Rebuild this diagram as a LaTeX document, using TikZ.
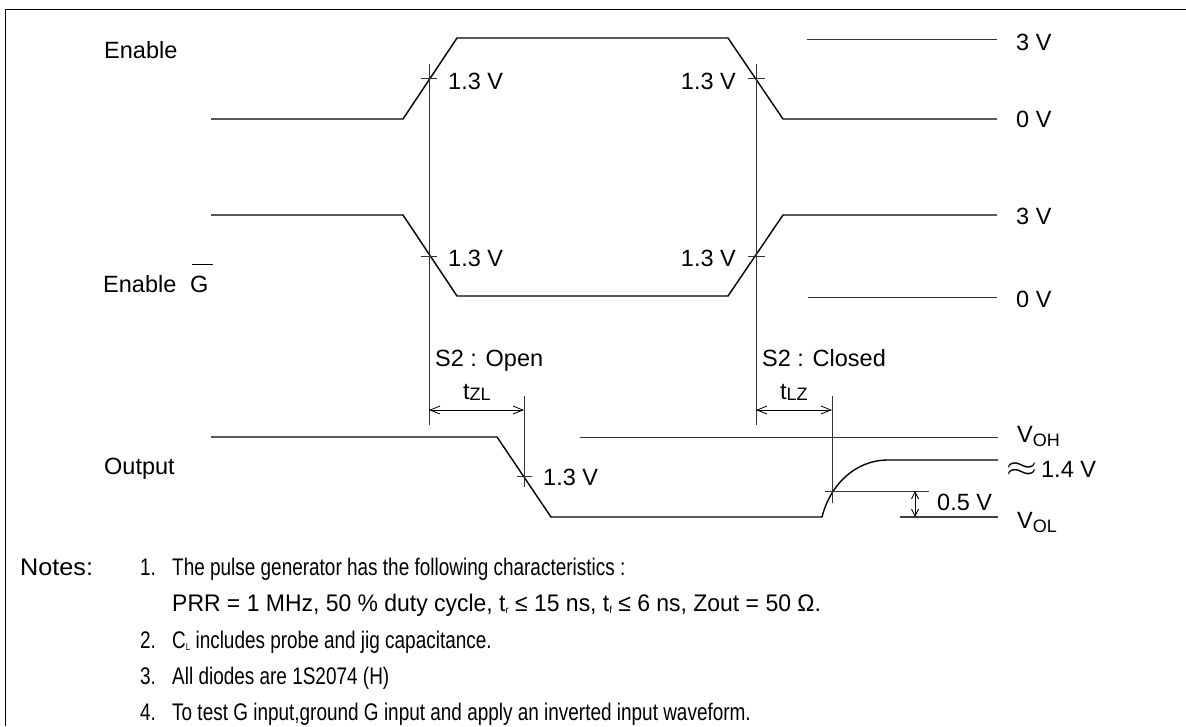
\documentclass[tikz,border=0pt]{standalone}
\usepackage{fontspec}
\setmainfont{Liberation Sans}
\newfontfamily\notesfont[FakeStretch=0.79]{Liberation Sans}
\usetikzlibrary{arrows.meta}
\newcommand\mysub[2]{\raisebox{-#1pt}{\fontsize{18}{20}\selectfont #2}}
\newcommand\nsub[1]{\raisebox{-2pt}{\fontsize{10}{11}\selectfont #1}}
\begin{document}
\begin{tikzpicture}[x=1pt,y=-1pt,
  wave/.style={line width=1.4pt},
  refl/.style={line width=0.9pt, black!80},
  txt/.style={inner sep=0pt, anchor=base west, font=\fontsize{23.5}{27}\selectfont},
  txtr/.style={inner sep=0pt, anchor=base east, font=\fontsize{23.5}{27}\selectfont},
  note/.style={inner sep=0pt, anchor=base west, font=\notesfont\fontsize{24}{28}\selectfont},
  dimarrow/.style={line width=0.8pt, {Straight Barb[length=10pt,width=8pt]}-{Straight Barb[length=10pt,width=8pt]}},
]
\useasboundingbox (0,0) rectangle (1186,726);
% frame
\draw[line width=1.3pt] (5.5,726) -- (5.5,9.5) -- (1186,9.5);

% Enable waveform
\coordinate (a0) at (211,119);
\coordinate (a1) at (403,119);
\coordinate (a2) at (457,38);
\coordinate (a3) at (728,38);
\coordinate (a4) at (783,119);
\coordinate (a5) at (997,119);
\draw[wave] (a0) -- (a1) -- (a2) -- (a3) -- (a4) -- (a5);
\coordinate (h3a) at (807,39);
\coordinate (h3b) at (997,39);
\draw[refl] (h3a) -- (h3b);

% Enable G waveform
\coordinate (b0) at (211,215);
\coordinate (b1) at (403,215);
\coordinate (b2) at (457,296);
\coordinate (b3) at (728,296);
\coordinate (b4) at (783,215);
\coordinate (b5) at (997,215);
\draw[wave] (b0) -- (b1) -- (b2) -- (b3) -- (b4) -- (b5);
\coordinate (l0a) at (808,297);
\coordinate (l0b) at (997,297);
\draw[refl] (l0a) -- (l0b);

% reference verticals and ticks
\coordinate (v1t) at (429,64);
\coordinate (v1b) at (429,425);
\coordinate (v2t) at (756,64);
\coordinate (v2b) at (756,425);
\draw[refl] (v1t) -- (v1b);
\draw[refl] (v2t) -- (v2b);
\draw[refl] (421,78) -- (437,78);
\draw[refl] (748,78) -- (765,78);
\draw[refl] (421,256) -- (437,256);
\draw[refl] (748,256) -- (765,256);

% Output waveform
\coordinate (c0) at (211,437);
\coordinate (c1) at (497,437);
\coordinate (c2) at (551,517);
\coordinate (c3) at (822,517);
\coordinate (c4) at (888,460);
\coordinate (c5) at (998,460);
\draw[wave] (c0) -- (c1) -- (c2) -- (c3) .. controls (830,485) and (855,460) .. (c4) -- (c5);
\coordinate (voha) at (580,437);
\coordinate (vohb) at (998,437);
\draw[refl] (voha) -- (vohb);
\coordinate (v3t) at (524,396);
\coordinate (v3b) at (524,487);
\coordinate (v4t) at (832,396);
\coordinate (v4b) at (832,503);
\draw[refl] (v3t) -- (v3b);
\draw[refl] (v4t) -- (v4b);
\draw[refl] (517,476) -- (532,476);
\coordinate (d1a) at (429,410);
\coordinate (d1b) at (524,410);
\coordinate (d2a) at (756,410);
\coordinate (d2b) at (832,410);
\draw[dimarrow] (d1a) -- (d1b);
\draw[dimarrow] (d2a) -- (d2b);
\coordinate (h05a) at (825,491);
\coordinate (h05b) at (929,491);
\draw[refl] (h05a) -- (h05b);
\coordinate (vola) at (900,517);
\coordinate (volb) at (998,517);
\draw[line width=1.1pt, black!75] (vola) -- (volb);
\coordinate (d3a) at (915,491);
\coordinate (d3b) at (915,517);
\draw[line width=0.8pt, {Straight Barb[length=7pt,width=7pt]}-{Straight Barb[length=7pt,width=7pt]}] (d3a) -- (d3b);

% labels
\node[txt] (lenable) at (104,58) {Enable};
\node[txt] (lenableg) at (103,292) {Enable};
\node[txt] (lg) at (190,292) {G};
\draw[line width=0.9pt] ([xshift=2pt,yshift=11pt]lg.north west) -- ([xshift=4pt,yshift=11pt]lg.north east);
\node[txt] (loutput) at (104,474) {Output};

\node[txt] (t1) at (448,89) {1.3 V};
\node[txtr] (t2) at (736,89) {1.3 V};
\node[txt] (t3) at (448,266) {1.3 V};
\node[txtr] (t4) at (736,266) {1.3 V};
\node[txt] (t5) at (543,485.5) {1.3 V};

\node[txt] (r1) at (1016,50) {3 V};
\node[txt] (r2) at (1016,127) {0 V};
\node[txt] (r3) at (1016,224) {3 V};
\node[txt] (r4) at (1016,307) {0 V};

\node[txt] (s1) at (435,366) {S2 : Open};
\node[txt] (s2) at (762,366) {S2 : Closed};
\node[txt] (tzl) at (463,399) {t\mysub{1}{ZL}};
\node[txt] (tlz) at (780,399) {t\mysub{1}{LZ}};

\node[txt] (voh) at (1017,442) {V\mysub{4}{OH}};
\node[txt] (v14) at (1006,477) {\raisebox{1pt}{\scalebox{1.6}[1.15]{$\approx$}}\hspace{4pt}1.4 V};
\node[txt] (v05) at (937,510) {0.5 V};
\node[txt] (vol) at (1017,528) {V\mysub{4}{OL}};

% notes
\node[note] (n0) at (20,575.5) {\scalebox{1.33}[1]{Notes:}};
\node[note] (n1) at (140,575.5) {1.};
\node[note] (n1t) at (172,575.5) {The pulse generator has the following characteristics :};
\node[note] (n1u) at (172,611.5) {\scalebox{1.21}[1]{PRR = 1 MHz, 50 \% duty cycle, t\nsub{r} ≤ 15 ns, t\nsub{f} ≤ 6 ns, Zout = 50 Ω.}};
\node[note] (n2) at (140,648.5) {2.};
\node[note] (n2t) at (172,648.5) {C\nsub{L} includes probe and jig capacitance.};
\node[note] (n3) at (140,684.5) {3.};
\node[note] (n3t) at (172,684.5) {All diodes are 1S2074 (H)};
\node[note] (n4) at (140,720.5) {4.};
\node[note] (n4t) at (172,720.5) {To test G input,ground G input and apply an inverted input waveform.};
\end{tikzpicture}
\end{document}
